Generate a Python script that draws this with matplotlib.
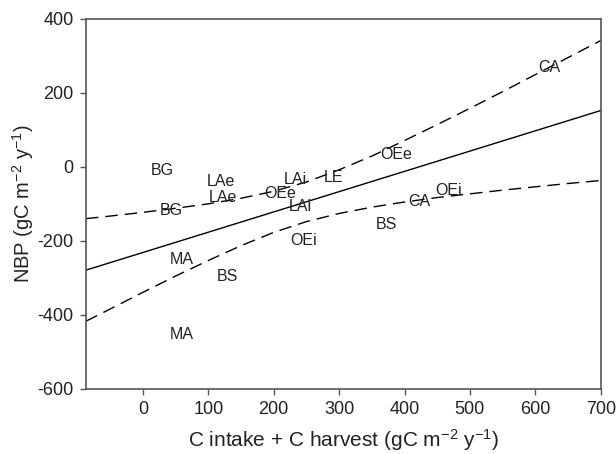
import matplotlib
matplotlib.use("Agg")
import matplotlib.pyplot as plt

plt.rcParams['font.family'] = ['Liberation Sans', 'DejaVu Sans']
plt.rcParams['mathtext.fontset'] = 'custom'
plt.rcParams['mathtext.rm'] = 'Liberation Sans'
plt.rcParams['mathtext.default'] = 'regular'
plt.rcParams['axes.unicode_minus'] = False

# Site labels and their positions (C intake + C harvest, NBP)
labels = ["BG", "BG", "LAe", "LAe", "OEe", "LAi", "LE", "LAi", "OEi",
          "MA", "BS", "MA", "CA", "OEe", "OEi", "CA", "BS"]
x_vals = [29, 44, 120, 122, 210, 233, 291, 241, 246,
          59, 129, 59, 621, 387, 467, 422, 372]
y_vals = [-9, -119, -40, -82, -73, -33, -28, -108, -200,
          -249, -295, -454, 269, 32, -63, -94, -157]

# Regression line and confidence band
fit_x = [-87, 700]
fit_y = [-279, 152]
band_x = [-87, -50, 0, 50, 100, 150, 200, 250, 300, 350, 400,
          450, 500, 550, 600, 650, 700]
band_upper = [-140, -133, -123, -112, -100, -85, -66, -41, -8, 29, 71,
              114, 158, 203, 249, 295, 341]
band_lower = [-417, -384, -339, -295, -253, -213, -177, -148, -126, -109, -95,
              -83, -73, -63, -54, -45, -37]

xticks = [0, 100, 200, 300, 400, 500, 600, 700]
yticks = [-600, -400, -200, 0, 200, 400]

fig = plt.figure(figsize=(6.16, 4.54), dpi=100)
ax = fig.add_axes([0.1396, 0.1432, 0.9752 - 0.1396, 0.9588 - 0.1432])

ax.plot(fit_x, fit_y, color='black', lw=1.0)
ax.plot(band_x, band_upper, color='black', lw=1.0, dashes=(9, 5))
ax.plot(band_x, band_lower, color='black', lw=1.0, dashes=(9, 5))

for lab, xv, yv in zip(labels, x_vals, y_vals):
    ax.text(xv, yv, lab, ha='center', va='center', fontsize=11.5, color='#222222')

ax.set_xlim(-87, 700)
ax.set_ylim(-600, 400)
ax.set_xticks(xticks)
ax.set_yticks(yticks)
ax.tick_params(direction='out', length=4, width=1, colors='#555555',
               labelcolor='#222222', labelsize=13, top=False, right=False, pad=5)
for s in ax.spines.values():
    s.set_color('#555555')
    s.set_linewidth(1.2)

ax.set_xlabel('C intake + C harvest (gC m$^{-2}$ y$^{-1}$)', fontsize=15,
              color='#222222', labelpad=6)
ax.set_ylabel('NBP (gC m$^{-2}$ y$^{-1}$)', fontsize=14.5, color='#222222', labelpad=1)

fig.savefig('out.png', dpi=100)
